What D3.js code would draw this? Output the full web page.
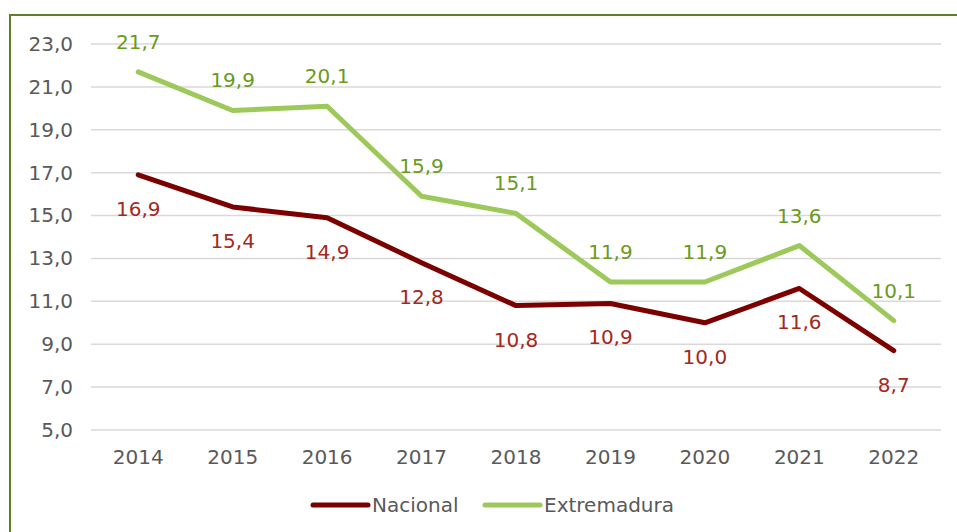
<!DOCTYPE html>
<html>
<head>
<meta charset="utf-8">
<script src="https://cdn.jsdelivr.net/npm/d3@7"></script>
<style>
  body { margin: 0; background: #fff; }
  #chart { width: 957px; height: 532px; }
  text { font-family: "DejaVu Sans", Verdana, sans-serif; }
</style>
</head>
<body>
<div id="chart"></div>
<script>
// data
const years = ["2014", "2015", "2016", "2017", "2018", "2019", "2020", "2021", "2022"];
const nacional = [16.9, 15.4, 14.9, 12.8, 10.8, 10.9, 10.0, 11.6, 8.7];
const extremadura = [21.7, 19.9, 20.1, 15.9, 15.1, 11.9, 11.9, 13.6, 10.1];
const yTicks = [5, 7, 9, 11, 13, 15, 17, 19, 21, 23];

const W = 957, H = 532;
const margin = { top: 44, right: 16, bottom: 102, left: 91 };

const svg = d3.select("#chart")
  .append("svg")
  .attr("width", W)
  .attr("height", H);

// chart frame (only left and top edges visible in the crop)
svg.append("path")
  .attr("d", `M10,${H} V15 H${W}`)
  .attr("fill", "none")
  .attr("stroke", "#5f7f22")
  .attr("stroke-width", 2);

const x = d3.scaleBand()
  .domain(years)
  .range([margin.left, W - margin.right]);

const y = d3.scaleLinear()
  .domain([5, 23])
  .range([H - margin.bottom, margin.top]);

const fmt = (v) => d3.format(".1f")(v).replace(".", ",");

// gridlines
svg.append("g")
  .selectAll("line")
  .data(yTicks)
  .join("line")
  .attr("x1", margin.left)
  .attr("x2", W - margin.right)
  .attr("y1", (d) => y(d))
  .attr("y2", (d) => y(d))
  .attr("stroke", "#d9d9d9")
  .attr("stroke-width", 1.5);

// y axis labels
svg.append("g")
  .attr("transform", `translate(${margin.left},0)`)
  .call(d3.axisLeft(y).tickValues(yTicks).tickSize(0).tickPadding(18).tickFormat(fmt))
  .call((g) => g.select(".domain").remove())
  .selectAll("text")
  .attr("fill", "#595959")
  .style("font-size", "20px");

// x axis labels
svg.append("g")
  .attr("transform", `translate(0,${H - margin.bottom})`)
  .call(d3.axisBottom(x).tickSize(0).tickPadding(20))
  .call((g) => g.select(".domain").remove())
  .selectAll("text")
  .attr("fill", "#595959")
  .style("font-size", "20px");

const series = [
  { name: "Nacional", values: nacional, color: "#7b0000", label: "#a2291b", dy: 34 },
  { name: "Extremadura", values: extremadura, color: "#9dc95b", label: "#6a9a20", dy: -30 }
];

const line = d3.line()
  .x((d, i) => x(years[i]) + x.bandwidth() / 2)
  .y((d) => y(d));

// draw lines, Nacional first
series.forEach((s) => {
  svg.append("path")
    .datum(s.values)
    .attr("fill", "none")
    .attr("stroke", s.color)
    .attr("stroke-width", 5)
    .attr("stroke-linecap", "round")
    .attr("stroke-linejoin", "round")
    .attr("d", line);
});

// data labels
series.forEach((s) => {
  svg.append("g")
    .selectAll("text")
    .data(s.values)
    .join("text")
    .attr("x", (d, i) => x(years[i]) + x.bandwidth() / 2)
    .attr("y", (d) => y(d) + s.dy)
    .attr("dy", "0.35em")
    .attr("text-anchor", "middle")
    .attr("fill", s.label)
    .style("font-size", "20px")
    .text(fmt);
});

// legend
const legendX = [313, 485];
const legend = svg.append("g").attr("transform", "translate(0,505)");
series.forEach((s, i) => {
  const item = legend.append("g").attr("transform", `translate(${legendX[i]},0)`);
  item.append("line")
    .attr("x1", 0)
    .attr("x2", 55)
    .attr("stroke", s.color)
    .attr("stroke-width", 5)
    .attr("stroke-linecap", "round");
  item.append("text")
    .attr("x", 59)
    .attr("dy", "0.35em")
    .attr("fill", "#595959")
    .style("font-size", "20px")
    .text(s.name);
});
</script>
</body>
</html>
